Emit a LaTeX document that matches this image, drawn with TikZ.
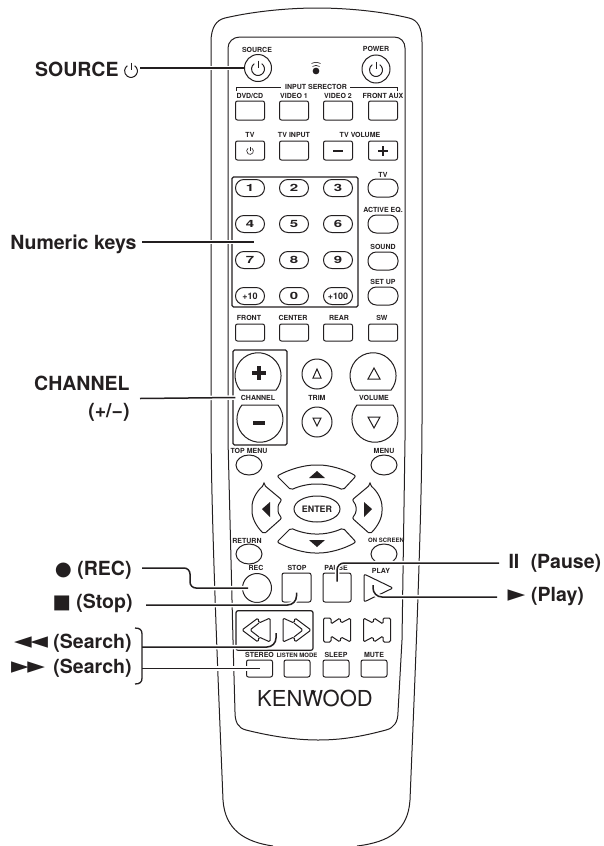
\documentclass[tikz,border=0pt]{standalone}
\usepackage{fontspec}
\setmainfont{TeX Gyre Heros}
\newfontfamily\symfont{DejaVu Sans}
\usetikzlibrary{positioning,shapes.geometric,calc}
\definecolor{ink}{HTML}{231F20}

\begin{document}
\begin{tikzpicture}[
    x=1pt, y=-1pt, color=ink, line width=1pt,
    tag/.style={inner sep=0pt, font=\fontsize{7}{8}\selectfont\bfseries},
    smalltag/.style={inner sep=0pt, font=\fontsize{6}{7}\selectfont\bfseries},
    callout/.style={inner sep=0pt, font=\fontsize{19.5}{27}\selectfont\bfseries},
    keybox/.style={draw, rounded corners=2pt, minimum width=29pt, minimum height=19pt, inner sep=0pt},
    pill/.style={draw, rounded corners=8.4pt, minimum width=29pt, minimum height=17pt, inner sep=0pt, font=\fontsize{10}{10}\selectfont\bfseries},
    oval/.style={draw, ellipse, minimum width=26pt, minimum height=20pt, inner sep=0pt},
    disc/.style={draw, circle, inner sep=0pt},
    leader/.style={line width=1.5pt, preaction={draw=white, line width=4.5pt}},
    hard/.style={line width=2.8pt},
    powericon/.pic={\draw (0.574,-0.819) arc (305:595:1); \draw (0,-1.3) -- (0,-0.1);},
    halfup/.pic={\draw (-19,15) arc (141.7:398.3:23) -- cycle;},
    halfdown/.pic={\draw (19,-15) arc (-38.3:218.3:23) -- cycle;},
    dblchev/.pic={\draw[rounded corners=1.4pt] (-14,0) -- (2,-12) -- (3,-7) -- (14,-12) -- (14,12) -- (3,7) -- (2,12) -- cycle;
        \draw[rounded corners=1.4pt] (3,-7) -- (-6,0) -- (3,7);},
    skipkey/.pic={\draw[rounded corners=1.4pt] (-13.5,-12) -- (-6,-12) -- (-6,-6) -- (3,-12) -- (4,-7) -- (13.5,-12) -- (13.5,12) -- (4,7) -- (3,12) -- (-6,6) -- (-6,12) -- (-13.5,12) -- cycle;}
]
\useasboundingbox (0,0) rectangle (604,846);

\draw (273,846) .. controls (245,842) and (225,830) .. (223,800) .. controls (219,700) and (211,520) .. (211,420)
    -- (211,42) .. controls (211,28) and (216,20) .. (225,18) .. controls (255,11) and (290,8) .. (317,8)
    .. controls (345,8) and (380,11) .. (409,18) .. controls (418,20) and (422,28) .. (422,42)
    -- (422,420) .. controls (422,520) and (414,700) .. (410,800) .. controls (408,830) and (390,842) .. (357,846);
\draw (228,48) .. controls (228,42) and (233,37) .. (240,37) -- (394,37) .. controls (401,37) and (405,42) .. (405,48)
    -- (405,440) -- (402,640) -- (398,712) .. controls (398,722) and (394,728) .. (386,730)
    .. controls (360,737) and (340,740) .. (318,740) .. controls (295,740) and (270,736) .. (246,730)
    .. controls (238,728) and (235,722) .. (235,712) -- (233,640) -- (228,440) -- cycle;

\node[disc, minimum size=27pt] (source) at (258,68) {};
\node[disc, minimum size=28pt] (power) at (376,69) {};
\node[tag] (source-tag) at (257,50) {SOURCE};
\node[tag] (power-tag) at (376,49) {POWER};
\pic[scale=6.5] at (258,69) {powericon};
\pic[scale=6.5] at (376,70) {powericon};
\node[disc, fill=ink, minimum size=5.6pt] (sensor) at (316,71) {};
\draw[line width=0.6pt] (312.5,66.5) .. controls (315,65) and (317,65) .. (319.5,66.5);
\draw[line width=0.6pt] (311.5,63.5) .. controls (315,62) and (317,62) .. (320.5,63.5);

\node[tag] (selector) at (316,87) {INPUT SERECTOR};
\draw (236,91) |- ([xshift=-4pt]selector.west);
\draw (397,91) |- ([xshift=3pt]selector.east);

\foreach \cx/\nm/\txt in {250/dvd/{DVD/CD},294/videoone/VIDEO 1,338/videotwo/VIDEO 2,383/frontaux/FRONT AUX}{
    \node[keybox] (\nm) at (\cx,110.5) {};
    \node[tag] (\nm-tag) at (\cx,96) {\txt};
}
\foreach \cx/\nm in {250/tv,294/tvinput,338/tvminus,383/tvplus}{
    \node[keybox] (\nm) at (\cx,150.5) {};
}
\node[tag] (tv-tag) at (250,135) {TV};
\node[tag] (tvinput-tag) at (294,135) {TV INPUT};
\node[tag] (tvvolume-tag) at (360,135) {TV VOLUME};
\pic[scale=3.4, line width=0.6pt] at (250,151) {powericon};
\draw[hard] (333,151) -- (343,151);
\draw[hard] (378,151) -- (388,151);
\draw[hard] (383,146) -- (383,156);

\node[draw, rounded corners=1.5pt, line width=1.2pt, minimum width=126pt, minimum height=130pt] (numbox) at (295,242) {};
\foreach \cx/\cy/\txt in {250/188/1,294/188/2,338/188/3,250/224/4,294/224/5,338/224/6,250/260/7,294/260/8,338/260/9,294/296/0}{
    \node[pill] (key\txt) at (\cx,\cy) {\scalebox{1.5}[1]{\txt}};
}
\node[pill, font=\fontsize{9}{9}\selectfont\bfseries] (keyten) at (250,296) {+10};
\node[pill, font=\fontsize{9}{9}\selectfont\bfseries] (keyhundred) at (338,296) {+100};

\foreach \cy/\ty/\nm/\txt in {188/175/tvtwo/TV,224/210/activeeq/ACTIVE EQ.,261/247/sound/SOUND,296/282/setup/SET UP}{
    \node[pill, minimum width=30pt, minimum height=18pt] (\nm) at (383,\cy) {};
    \node[tag] (\nm-tag) at (383,\ty) {\txt};
}
\foreach \cx/\lx/\nm/\txt in {250/249/front/FRONT,294/293/center/CENTER,338/339/rear/REAR,383/382/sw/SW}{
    \node[keybox, minimum height=17pt] (\nm) at (\cx,332.5) {};
    \node[tag] (\nm-tag) at (\lx,318) {\txt};
}

\node[draw, rounded corners=1.5pt, line width=1.2pt, minimum width=54pt, minimum height=95pt] (chanbox) at (260,397.5) {};
\pic at (259,375) {halfup};
\pic at (259,420) {halfdown};
\pic at (374,375) {halfup};
\pic at (374,420) {halfdown};
\draw[line width=3.6pt] (252,373) -- (266,373);
\draw[line width=3.6pt] (259,366) -- (259,380);
\draw[line width=3.6pt] (253,423) -- (265,423);
\node[tag] (channel-tag) at (258,398) {CHANNEL};
\node[tag] (trim-tag) at (317,398) {TRIM};
\node[tag] (volume-tag) at (374,398) {VOLUME};
\node[disc, minimum size=30pt] (trimup) at (317,374) {};
\node[disc, minimum size=30pt] (trimdown) at (317,422) {};
\draw (313,378) -- (321,378) -- (317,369) -- cycle;
\draw (313,418) -- (321,418) -- (317,426) -- cycle;
\draw (368,379) -- (380,379) -- (374,368) -- cycle;
\draw (368,417) -- (380,417) -- (374,428) -- cycle;

\node[oval] (topmenu) at (249,465) {};
\node[oval] (menu) at (384,465) {};
\node[tag] (topmenu-tag) at (249,451) {TOP MENU};
\node[tag] (menu-tag) at (384,451) {MENU};
\node[oval] (return) at (249,554) {};
\node[oval] (onscreen) at (384,554) {};
\node[tag] (return-tag) at (247,541) {RETURN};
\node[smalltag] (onscreen-tag) at (386,540) {ON SCREEN};

\draw[rounded corners=2pt] (277,476) .. controls (290,469) and (305,465) .. (317,465) .. controls (329,465) and (344,469) .. (356,476)
    -- (343,490) .. controls (335,486) and (325,484) .. (317,484) .. controls (309,484) and (299,486) .. (291,490) -- cycle;
\draw[rounded corners=2pt] (277,542) .. controls (290,549) and (305,553) .. (317,553) .. controls (329,553) and (344,549) .. (356,542)
    -- (343,528) .. controls (335,532) and (325,534) .. (317,534) .. controls (309,534) and (299,532) .. (291,528) -- cycle;
\draw[rounded corners=2pt] (264,485) -- (282,500) .. controls (279,503) and (278,506) .. (278,509) .. controls (278,512) and (279,515) .. (282,518)
    -- (264,534) .. controls (256,526) and (252,518) .. (252,509) .. controls (252,500) and (256,492) .. (264,485) -- cycle;
\draw[rounded corners=2pt] (370,485) -- (352,500) .. controls (355,503) and (356,506) .. (356,509) .. controls (356,512) and (355,515) .. (352,518)
    -- (370,534) .. controls (378,526) and (382,518) .. (382,509) .. controls (382,500) and (378,492) .. (370,485) -- cycle;
\fill (309,478) -- (325,478) -- (317,471) -- cycle;
\fill (309,540) -- (325,540) -- (317,547) -- cycle;
\fill (270,502) -- (270,517) -- (262,509) -- cycle;
\fill (364,502) -- (364,517) -- (372,509) -- cycle;
\node[draw, ellipse, minimum width=46pt, minimum height=26pt, inner sep=0pt, font=\fontsize{8.9}{9}\selectfont\bfseries] (enter) at (317,509) {ENTER};

\node[disc, minimum size=29pt] (rec) at (257,588) {};
\node[keybox, minimum height=29pt] (stop) at (296.5,587.5) {};
\node[keybox, minimum width=28pt, minimum height=29pt] (pause) at (337,587.5) {};
\node[tag] (rec-tag) at (256,568) {REC};
\node[tag] (stop-tag) at (297,568) {STOP};
\node[tag] (pause-tag) at (336,568) {PAUSE};
\node[tag] (play-tag) at (381,571) {PLAY};
\draw[rounded corners=2pt] (364,574) -- (393,588) -- (364,602) -- cycle;
\coordinate (playend) at (373,585);

\node[draw, rounded corners=2pt, line width=1.2pt, minimum width=77pt, minimum height=39.5pt] (searchbox) at (274.5,630.5) {};
\pic at (256,630) {dblchev};
\pic[xscale=-1] at (297,630) {dblchev};
\pic at (337,630) {skipkey};
\pic[xscale=-1] at (377,630) {skipkey};
\coordinate (rewend) at (276,633);

\foreach \cx/\nm/\txt in {259.5/stereo/STEREO,336/sleep/SLEEP,374/mute/MUTE}{
    \node[keybox, minimum width=26pt, minimum height=17pt] (\nm) at (\cx,668.5) {};
    \node[tag] (\nm-tag) at (\cx,655) {\txt};
}
\node[keybox, minimum width=26pt, minimum height=17pt] (listenmode) at (297,668.5) {};
\node[smalltag] (listenmode-tag) at (297,655) {LISTEN MODE};
\node[inner sep=0pt, font=\fontsize{22}{22}\selectfont] (brand) at (315,698) {KENWOOD};
\fill (310.7,690.7) -- (316,690.7) -- (313.3,695.5) -- cycle;

\node[callout, anchor=east] (lblsource) at (119,69) {SOURCE};
\pic[scale=6.4] at (131,71) {powericon};
\node[callout, anchor=east] (lblnumeric) at (137,244) {Numeric keys};
\node[callout, anchor=east, align=right] (lblchannel) at (130,398.5) {CHANNEL\\(+/\textminus)};
\node[callout, anchor=east] (lblrec) at (132,570) {{\symfont\char"25CF} (REC)};
\node[callout, anchor=east] (lblstop) at (133,603) {{\symfont\char"25A0} (Stop)};
\node[callout, anchor=east] (lblrew) at (132,643) {{\symfont\fontsize{23}{23}\selectfont\char"25C4\kern-1.5pt\char"25C4} (Search)};
\node[callout, anchor=east] (lblff) at (132,668) {{\symfont\fontsize{23}{23}\selectfont\char"25BA\kern-1.5pt\char"25BA}\kern3pt{} (Search)};
\node[callout, anchor=west] (lblpause) at (508,563) {II\kern6pt{} (Pause)};
\node[callout, anchor=west] (lblplay) at (507,597) {{\symfont\fontsize{23}{23}\selectfont\char"25BA}\kern0.5pt{} (Play)};

\draw[leader] ([xshift=21pt]lblsource.east |- source.west) -- (source.west);
\draw[leader] ([shift={(5,-2)}]lblnumeric.east) -- ([xshift=23pt]numbox.west);
\draw[leader] ([xshift=10pt]lblchannel.east) -- ([xshift=3pt]chanbox.west);
\draw[leader, rounded corners=6pt] ([shift={(10,-2)}]lblrec.east) -- ++(48,0) |- ([xshift=-9pt]rec.center);
\draw[leader, rounded corners=9pt] ([shift={(13,2)}]lblstop.east) -| ([yshift=-5pt]stop.center);
\draw[leader, rounded corners=9pt] ([shift={(10,4)}]lblrew.east) -| (rewend);
\draw[leader] ([xshift=10pt]lblff.east |- stereo.center) -- (stereo.center);
\draw[leader, rounded corners=7pt] ([xshift=-9pt]lblpause.west) -| ([yshift=6pt]pause.center);
\draw[leader, rounded corners=9pt] (lblplay.west |- lblplay.center) ++(-10,0) -| (playend);
\draw[line width=1.3pt] (135,628) .. controls (140,628) and (142,630) .. (142,634) -- (142,678) .. controls (142,682) and (140,684) .. (135,684);
\end{tikzpicture}
\end{document}
